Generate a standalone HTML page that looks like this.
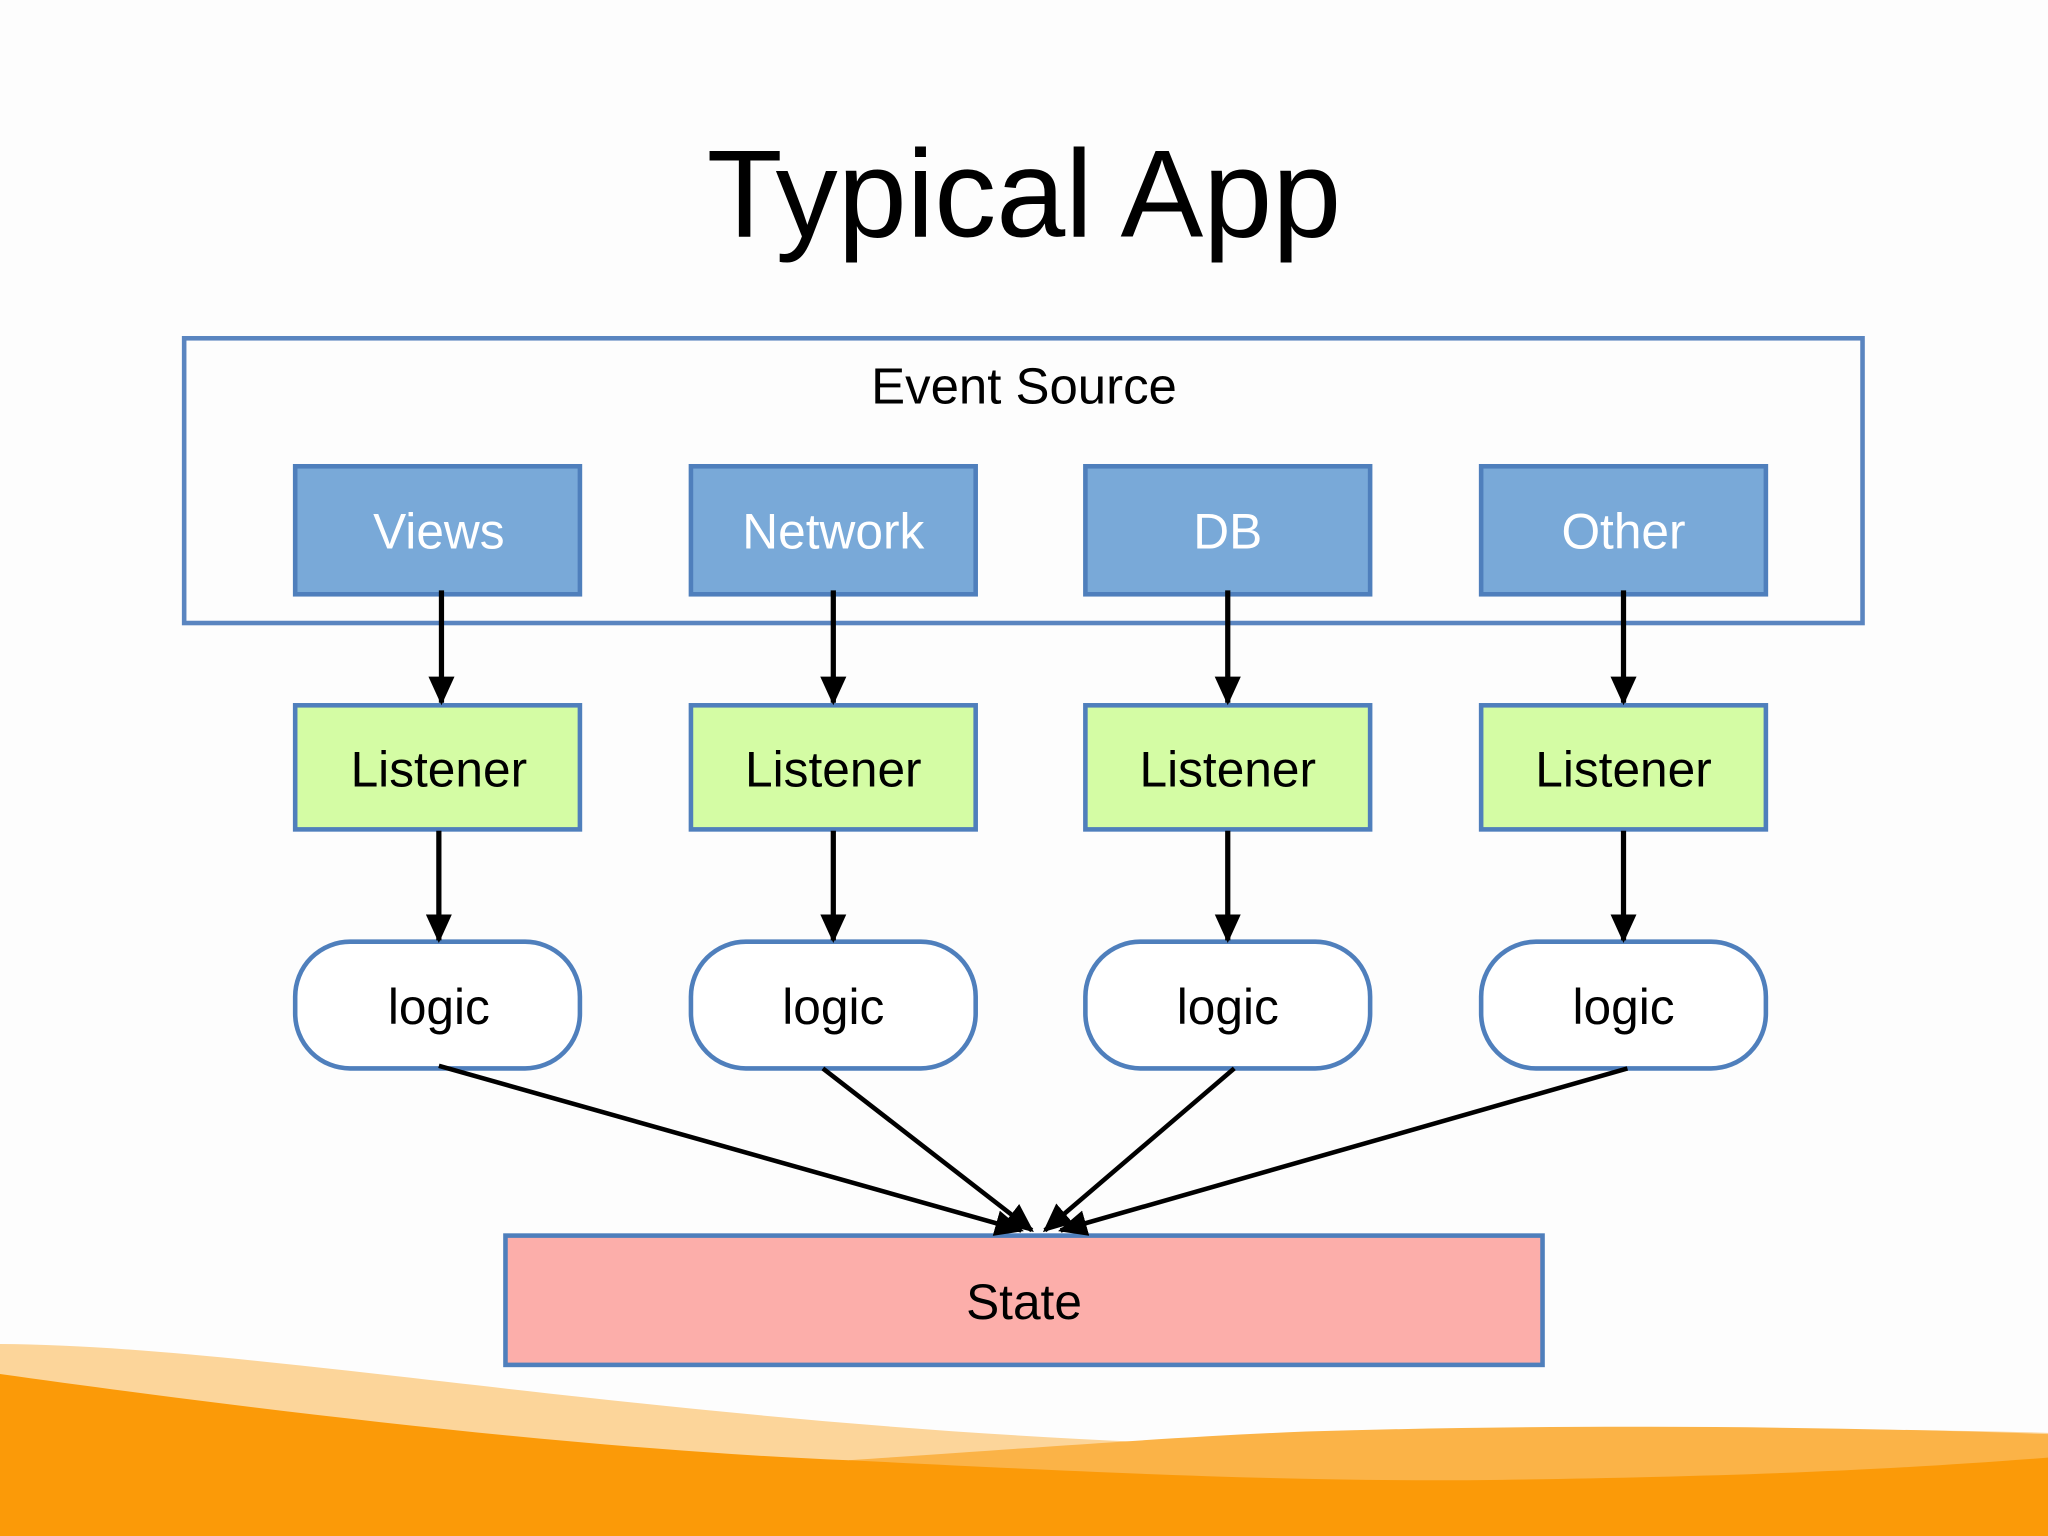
<!DOCTYPE html>
<html><head><meta charset="utf-8"><style>
html,body{margin:0;padding:0;background:#fdfdfd;}
svg{display:block;}
text{font-family:"Liberation Sans",sans-serif;text-anchor:middle;}
</style></head><body>
<svg width="2048" height="1536" viewBox="0 0 1568 1176" xmlns="http://www.w3.org/2000/svg">
<defs>
<marker id="b" markerWidth="22" markerHeight="20" refX="20" refY="10" orient="auto" markerUnits="userSpaceOnUse" viewBox="0 0 22 20">
<path d="M0,0 L22,10 L0,20 z" fill="#000"/></marker>
</defs>
<rect width="1568" height="1176" fill="#fdfdfd"/>
<path d="M0,1029 C200,1030 500,1090 900,1105 C1100,1098 1300,1090 1568,1097 L1568,1176 L0,1176 Z" fill="#fcd59a"/>
<path d="M650,1118 C800,1108 900,1100 1000,1096 C1200,1090 1400,1092 1568,1098 L1568,1176 L650,1176 Z" fill="#fbb347"/>
<path d="M0,1052 C200,1080 450,1110 650,1118 C850,1128 1000,1135 1150,1133 C1350,1130 1450,1125 1568,1116 L1568,1176 L0,1176 Z" fill="#fb9a08"/>
<text x="784" y="181" font-size="95">Typical App</text>
<rect x="141" y="259" width="1285" height="218" fill="none" stroke="#5a85c0" stroke-width="3.5"/>
<text x="784" y="309" font-size="39">Event Source</text>
<g stroke="#4f7fbc" stroke-width="3.5">
<rect x="226" y="357" width="218" height="98" fill="#79a9d8"/>
<rect x="529" y="357" width="218" height="98" fill="#79a9d8"/>
<rect x="831" y="357" width="218" height="98" fill="#79a9d8"/>
<rect x="1134" y="357" width="218" height="98" fill="#79a9d8"/>
<rect x="226" y="540" width="218" height="95" fill="#d4fca4"/>
<rect x="529" y="540" width="218" height="95" fill="#d4fca4"/>
<rect x="831" y="540" width="218" height="95" fill="#d4fca4"/>
<rect x="1134" y="540" width="218" height="95" fill="#d4fca4"/>
<rect x="226" y="721" width="218" height="97" rx="42" fill="#fff"/>
<rect x="529" y="721" width="218" height="97" rx="42" fill="#fff"/>
<rect x="831" y="721" width="218" height="97" rx="42" fill="#fff"/>
<rect x="1134" y="721" width="218" height="97" rx="42" fill="#fff"/>
<rect x="387" y="946" width="794" height="99" fill="#fcaeaa"/>
</g>
<g font-size="38" fill="#fff">
<text x="336" y="420">Views</text><text x="638" y="420">Network</text><text x="940" y="420">DB</text><text x="1243" y="420">Other</text>
</g>
<g font-size="38" fill="#000">
<text x="336" y="602">Listener</text><text x="638" y="602">Listener</text><text x="940" y="602">Listener</text><text x="1243" y="602">Listener</text>
<text x="336" y="784">logic</text><text x="638" y="784">logic</text><text x="940" y="784">logic</text><text x="1243" y="784">logic</text>
<text x="784" y="1010">State</text>
</g>
<g stroke="#000" stroke-width="4" marker-end="url(#b)">
<line x1="338" y1="452" x2="338" y2="538"/>
<line x1="638" y1="452" x2="638" y2="538"/>
<line x1="940" y1="452" x2="940" y2="538"/>
<line x1="1243" y1="452" x2="1243" y2="538"/>
<line x1="336" y1="636" x2="336" y2="720"/>
<line x1="638" y1="636" x2="638" y2="720"/>
<line x1="940" y1="636" x2="940" y2="720"/>
<line x1="1243" y1="636" x2="1243" y2="720"/>
</g>
<g stroke="#000" stroke-width="3.5" marker-end="url(#b)">
<line x1="336" y1="816" x2="782" y2="942"/>
<line x1="630" y1="818" x2="790" y2="942"/>
<line x1="945" y1="818" x2="800" y2="942"/>
<line x1="1246" y1="818" x2="812" y2="942"/>
</g>
</svg>
</body></html>
